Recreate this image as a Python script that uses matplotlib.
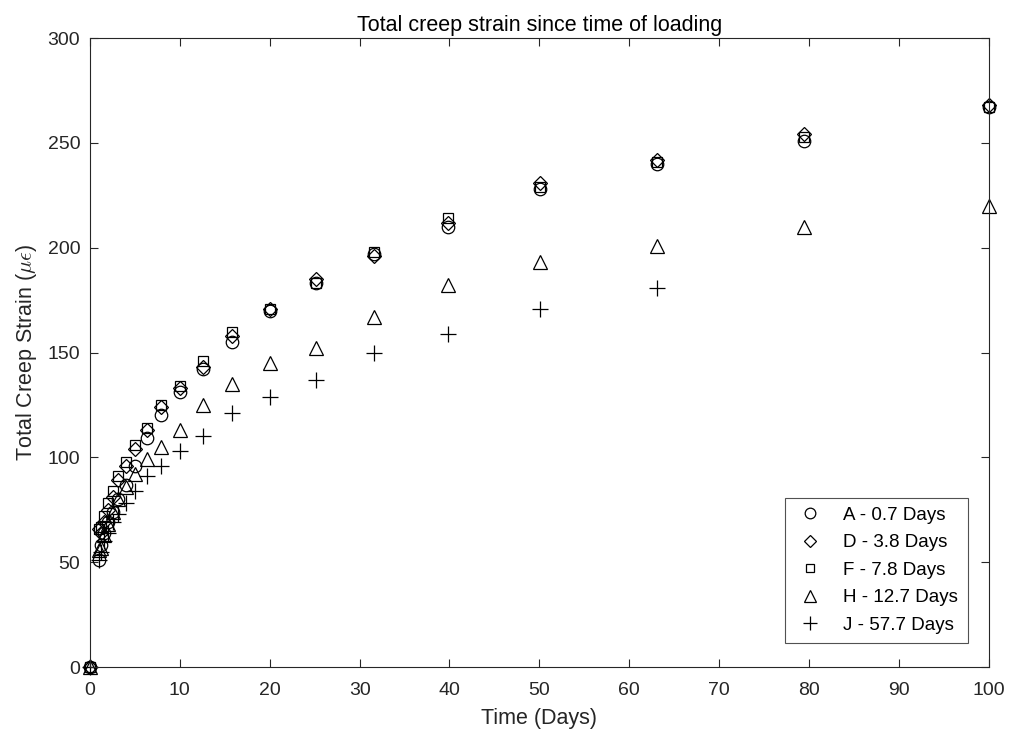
import matplotlib
matplotlib.use('Agg')
from matplotlib import pyplot as plt

plt.rcParams['font.family'] = ['Liberation Sans', 'DejaVu Sans']
plt.rcParams['mathtext.fontset'] = 'cm'

# time since loading (days)
times = [0, 1, 1.26, 1.58, 2, 2.51, 3.16, 3.98, 5.01, 6.31, 7.94, 10, 12.6,
         15.8, 20, 25.1, 31.6, 39.8, 50.1, 63.1, 79.4, 100]

# total creep strain (microstrain)
strain_a = [0, 51, 58, 64, 69, 74, 80, 87, 96, 109, 120, 131, 142,
            155, 170, 183, 197, 210, 228, 240, 251, 267]
strain_d = [0, 66, 64, 69, 75, 81, 89, 96, 104, 113, 124, 133, 143,
            158, 171, 185, 196, 212, 231, 242, 254, 268]
strain_f = [0, 66, 67, 72, 78, 84, 91, 98, 106, 114, 125, 134, 146,
            160, 171, 183, 198, 214, 229, 241, 253, 267]
strain_h = [0, 56, 57, 63, 68, 74, 80, 86, 92, 99, 105, 113, 125,
            135, 145, 152, 167, 182, 193, 201, 210, 220]
times_j = times[:20]
strain_j = [0, 51, 55, 60, 64, 69, 73, 78, 84, 91, 96, 103, 110,
            121, 129, 137, 150, 159, 171, 181]

labels = ['A - 0.7 Days', 'D - 3.8 Days', 'F - 7.8 Days', 'H - 12.7 Days', 'J - 57.7 Days']

fig = plt.figure(figsize=(10.1, 7.4), dpi=100)
ax = fig.add_axes([0.0891, 0.0986, 0.8898, 0.85])

kw = dict(linestyle='none', color='black', markerfacecolor='none',
          markeredgewidth=0.9, clip_on=False)
ax.plot(times, strain_a, marker='o', markersize=9, label=labels[0], **kw)
ax.plot(times, strain_d, marker='D', markersize=7, label=labels[1], **kw)
ax.plot(times, strain_f, marker='s', markersize=7, label=labels[2], **kw)
ax.plot(times, strain_h, marker='^', markersize=10, label=labels[3], **kw)
ax.plot(times_j, strain_j, marker='+', markersize=12, label=labels[4], **kw)

ax.set_xlim(0, 100)
ax.set_ylim(0, 300)
ax.set_xticks(range(0, 101, 10))
ax.set_yticks(range(0, 301, 50))
ax.tick_params(direction='in', top=True, right=True, labelsize=14,
               colors='#262626', length=6)
ax.tick_params(axis='x', pad=11)
ax.tick_params(axis='y', pad=7)
for s in ax.spines.values():
    s.set_color('#262626')
    s.set_linewidth(0.8)

ax.set_xlabel('Time (Days)', fontsize=15.5, color='#262626', labelpad=6)
ax.set_ylabel(r'Total Creep Strain ($\mu\epsilon$)', fontsize=15.5, color='#262626', labelpad=6)
ax.set_title('Total creep strain since time of loading', fontsize=15.5, color='black', pad=5)

leg = ax.legend(loc='lower right', bbox_to_anchor=(0.9766, 0.038), borderaxespad=0,
                fontsize=13.5, frameon=True, fancybox=False, edgecolor='#262626',
                markerscale=0.85, handlelength=1.6, handletextpad=1.0,
                borderpad=0.5, labelspacing=0.55)
leg.get_frame().set_linewidth(0.8)

fig.savefig('out.png', dpi=100)
